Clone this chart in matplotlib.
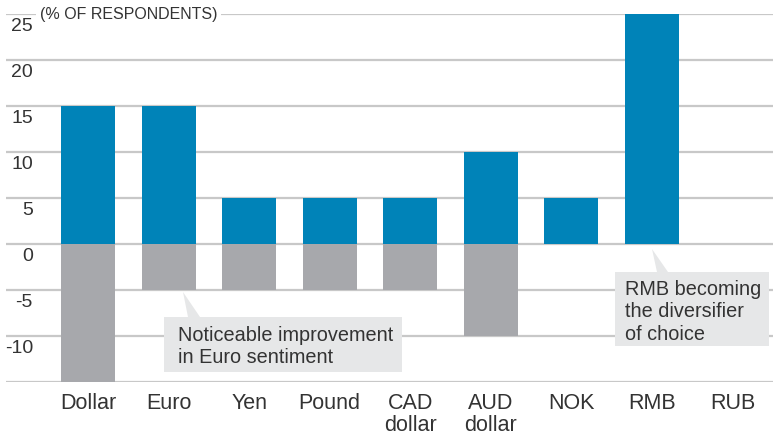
import matplotlib.pyplot as plt
from matplotlib.patches import Rectangle, Polygon

# Data
currencies = ['Dollar', 'Euro', 'Yen', 'Pound', 'CAD\ndollar', 'AUD\ndollar', 'NOK', 'RMB', 'RUB']
positive = [15, 15, 5, 5, 5, 10, 5, 25, 0]
negative = [-15, -5, -5, -5, -5, -10, 0, 0, 0]
yticks = [25, 20, 15, 10, 5, 0, -5, -10]

BLUE = '#0083b8'
GREY = '#a7a8ac'
GRID = '#c8c8c8'
BOX = '#e6e7e8'
TXT = '#333333'

STEP = 80.57  # pixels between bar centres

plt.rcParams['font.family'] = ['Liberation Sans', 'DejaVu Sans']

fig = plt.figure(figsize=(7.73, 4.35), dpi=100)
ax = fig.add_axes([6 / 773, 1 - 383 / 435, 767 / 773, 368 / 435])
ax.set_xlim((6 - 88) / STEP, (773 - 88) / STEP)
ax.set_ylim(-15, 25)
for s in ax.spines.values():
    s.set_visible(False)

x = list(range(len(currencies)))
ax.bar(x, positive, width=54 / STEP, color=BLUE, zorder=3)
ax.bar(x, negative, width=54 / STEP, color=GREY, zorder=3)

# gridlines + tick labels sitting under each line
for v in yticks + [-15]:
    ax.axhline(v, color=GRID, lw=1.6, zorder=1)
for v in yticks:
    ax.annotate(str(v), xy=((33 - 88) / STEP, v), xytext=(0, -8),
                textcoords='offset points', ha='right', va='center',
                fontsize=14, color=TXT)

ax.text((40 - 88) / STEP, 25.0, '(% OF RESPONDENTS)', fontsize=11.5, color=TXT,
        ha='left', va='center', zorder=4,
        bbox=dict(facecolor='white', edgecolor='none', pad=2.5))

ax.set_yticks([])
ax.set_xticks(x)
ax.set_xticklabels(currencies, fontsize=15.5, color=TXT, linespacing=1.1)
ax.tick_params(axis='x', length=0, pad=7)


def px(xp, yp):
    return (xp - 88) / STEP, 25 - (yp - 15) / 46 * 5


def callout(box, tip, base, text, text_xy):
    x0, y0 = px(box[0], box[3])
    x1, y1 = px(box[2], box[1])
    ax.add_patch(Rectangle((x0, y0), x1 - x0, y1 - y0, facecolor=BOX,
                           edgecolor='none', zorder=5))
    ax.add_patch(Polygon([px(*tip), px(*base[0]), px(*base[1])], closed=True,
                         facecolor=BOX, edgecolor='none', zorder=5))
    tx, ty = px(*text_xy)
    ax.text(tx, ty, text, fontsize=14.3, color=TXT, ha='left', va='top',
            linespacing=1.22, zorder=6)


callout((164, 318, 402, 373), (183, 293), [(188, 318), (200, 318)],
        'Noticeable improvement\nin Euro sentiment', (178, 326))
callout((615, 273, 769, 347), (652, 250), [(657, 273), (668, 273)],
        'RMB becoming\nthe diversifier\nof choice', (625, 280))

fig.savefig('out.png', dpi=100)
